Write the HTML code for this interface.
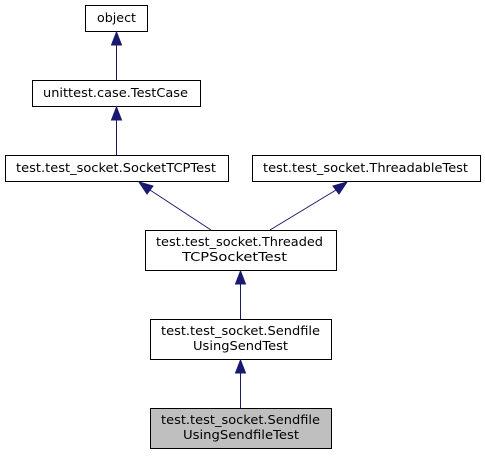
<!DOCTYPE html>
<html><head><style>body{margin:0;background:#fff}</style></head><body>
<svg width="485" height="455" viewBox="0 0 485 455" xmlns="http://www.w3.org/2000/svg" font-family="DejaVu Sans, sans-serif" font-size="12">
<g fill="#fff" stroke="#000" stroke-width="1">
<rect x="85.5" y="5.5" width="62" height="26"/>
<rect x="32.5" y="80.5" width="168" height="26"/>
<rect x="5.5" y="155.5" width="223" height="26"/>
<rect x="252.5" y="155.5" width="228" height="26"/>
<rect x="145.5" y="230.5" width="191" height="40"/>
<rect x="150.5" y="319.5" width="181" height="40"/>
<rect x="150.5" y="408.5" width="181" height="40" fill="#bfbfbf"/>
</g>
<g stroke="#191970" stroke-width="1" fill="#191970">
<line x1="116.5" y1="80" x2="116.5" y2="44"/><polygon points="116.5,32 111.5,45 121.5,45"/>
<line x1="116.5" y1="155" x2="116.5" y2="119"/><polygon points="116.5,107 111.5,120 121.5,120"/>
<line x1="211" y1="230" x2="150" y2="190"/><polygon points="139,182 147,194 153,186"/>
<line x1="270" y1="230" x2="336" y2="190"/><polygon points="347,182 333,186 339,194"/>
<line x1="240.5" y1="319" x2="240.5" y2="284"/><polygon points="240.5,271 235.5,284 245.5,284"/>
<line x1="240.5" y1="408" x2="240.5" y2="373"/><polygon points="240.5,360 235.5,373 245.5,373"/>
</g>
<g fill="#000">
<text x="97" y="22" textLength="39" lengthAdjust="spacingAndGlyphs">object</text>
<text x="43" y="97" textLength="145" lengthAdjust="spacingAndGlyphs">unittest.case.TestCase</text>
<text x="16" y="172" textLength="200" lengthAdjust="spacingAndGlyphs">test.test_socket.SocketTCPTest</text>
<text x="263" y="172" textLength="205" lengthAdjust="spacingAndGlyphs">test.test_socket.ThreadableTest</text>
<text x="156" y="246" textLength="167" lengthAdjust="spacingAndGlyphs">test.test_socket.Threaded</text>
<text x="182" y="261" textLength="105" lengthAdjust="spacingAndGlyphs">TCPSocketTest</text>
<text x="161" y="335" textLength="159" lengthAdjust="spacingAndGlyphs">test.test_socket.Sendfile</text>
<text x="193" y="350" textLength="95" lengthAdjust="spacingAndGlyphs">UsingSendTest</text>
<text x="161" y="424" textLength="159" lengthAdjust="spacingAndGlyphs">test.test_socket.Sendfile</text>
<text x="183" y="439" textLength="116" lengthAdjust="spacingAndGlyphs">UsingSendfileTest</text>
</g>
</svg>
</body></html>
